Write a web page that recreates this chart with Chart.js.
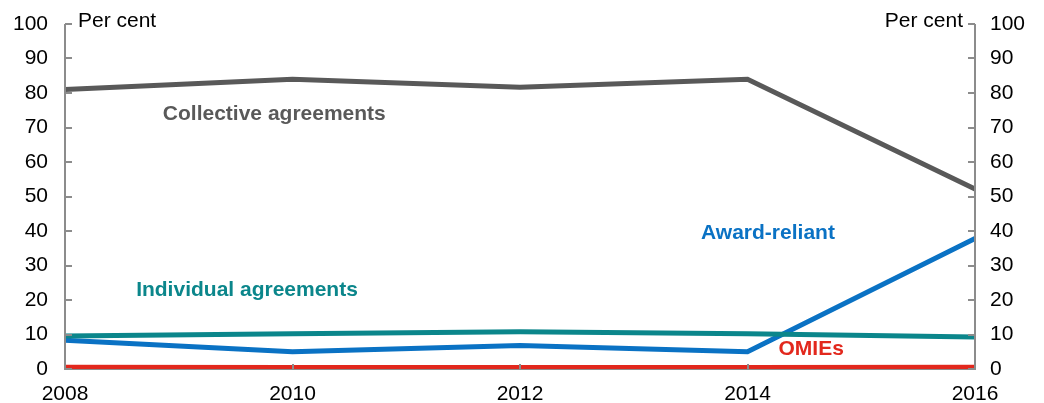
<!DOCTYPE html>
<html>
<head>
<meta charset="utf-8">
<script src="https://cdn.jsdelivr.net/npm/chart.js@4/dist/chart.umd.min.js"></script>
<style>
  html, body { margin: 0; padding: 0; background: #fff; }
  #wrap { width: 1044px; height: 403px; }
</style>
</head>
<body>
<div id="wrap"><canvas id="chart" width="1044" height="403"></canvas></div>
<script>
// ---- Data ----
const years = ['2008', '2010', '2012', '2014', '2016'];
const collective = [81.0, 84.0, 81.7, 84.0, 52.2];
const individual = [9.6, 10.2, 10.8, 10.2, 9.3];
const awardReliant = [8.3, 5.0, 6.8, 5.0, 37.8];
const omies = [0.5, 0.4, 0.4, 0.4, 0.5];
const yTicks = [0, 10, 20, 30, 40, 50, 60, 70, 80, 90, 100];

// in-chart series labels: [text, colour, x (index units), y (per cent)]
const seriesLabels = [
  ['Collective agreements', '#595959', 0.92, 73.8],
  ['Individual agreements', '#0b868b', 0.80, 22.7],
  ['Award-reliant', '#0a72c4', 3.09, 39.4],
  ['OMIEs', '#e2281d', 3.28, 5.8],
];

const FONT = 'Arial, "Liberation Sans", sans-serif';
const AXIS = '#8c8c8c';

// ---- Plugin: inward ticks, axis lines, "Per cent" titles, series labels ----
const decor = {
  id: 'decor',
  afterDatasetsDraw(chart) {
    const { ctx, chartArea: a, scales: { x, y } } = chart;
    ctx.save();
    ctx.strokeStyle = AXIS;
    ctx.lineWidth = 2;
    ctx.beginPath();
    ctx.moveTo(a.left, a.top); ctx.lineTo(a.left, a.bottom);
    ctx.moveTo(a.right, a.top); ctx.lineTo(a.right, a.bottom);
    yTicks.forEach((v) => {
      const py = Math.round(y.getPixelForValue(v));
      ctx.moveTo(a.left, py); ctx.lineTo(a.left + 7, py);
      ctx.moveTo(a.right, py); ctx.lineTo(a.right - 7, py);
    });
    for (let i = 1; i < years.length - 1; i++) {
      const px = Math.round(x.getPixelForValue(i));
      ctx.moveTo(px, a.bottom); ctx.lineTo(px, a.bottom - 5);
    }
    ctx.stroke();

    ctx.fillStyle = '#000';
    ctx.font = `21px ${FONT}`;
    ctx.textBaseline = 'middle';
    ctx.textAlign = 'left';
    ctx.fillText('Per cent', a.left + 13, a.top - 3);
    ctx.textAlign = 'right';
    ctx.fillText('Per cent', a.right - 12, a.top - 3);

    ctx.font = `bold 21px ${FONT}`;
    ctx.textAlign = 'center';
    seriesLabels.forEach(([t, c, xi, yv]) => {
      ctx.fillStyle = c;
      ctx.fillText(t, x.getPixelForValue(xi), y.getPixelForValue(yv));
    });
    ctx.restore();
  },
};

function line(label, data, color) {
  return { label, data, borderColor: color, backgroundColor: color, borderWidth: 5,
    pointRadius: 0, tension: 0, fill: false };
}

const tickFont = { family: FONT, size: 21 };

new Chart(document.getElementById('chart'), {
  type: 'line',
  data: {
    labels: years,
    datasets: [
      line('Collective agreements', collective, '#595959'),
      line('Individual agreements', individual, '#0b868b'),
      line('Award-reliant', awardReliant, '#0a72c4'),
      line('OMIEs', omies, '#e2281d'),
    ],
  },
  options: {
    responsive: false,
    animation: false,
    layout: { padding: { top: 24, left: 0, right: 0, bottom: 0 } },
    plugins: { legend: { display: false }, tooltip: { enabled: false } },
    scales: {
      x: {
        offset: false,
        grid: { display: false },
        border: { display: true, color: AXIS, width: 2 },
        ticks: { color: '#000', font: tickFont, padding: 5, maxRotation: 0, autoSkip: false },
        afterFit: (s) => { s.height = 34; s.paddingLeft = 0; s.paddingRight = 0; },
      },
      y: {
        position: 'left', min: 0, max: 100,
        grid: { display: false }, border: { display: false },
        ticks: { stepSize: 10, color: '#000', font: tickFont, padding: 9 },
        afterFit: (s) => { s.width = 65; s.paddingTop = 0; s.paddingBottom = 0; },
      },
      y2: {
        position: 'right', min: 0, max: 100,
        grid: { display: false }, border: { display: false },
        ticks: { stepSize: 10, color: '#000', font: tickFont, padding: 7 },
        afterFit: (s) => { s.width = 69; s.paddingTop = 0; s.paddingBottom = 0; },
      },
    },
  },
  plugins: [decor],
});
</script>
</body>
</html>
